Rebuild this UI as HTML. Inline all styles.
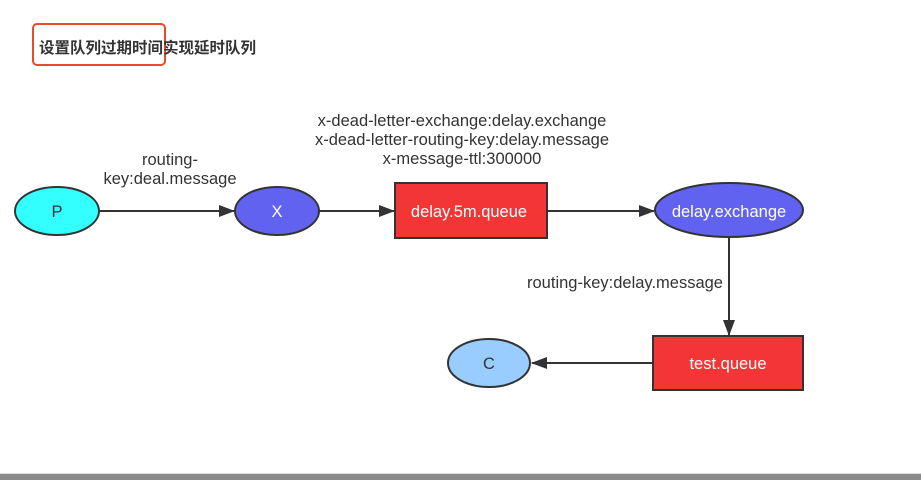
<!DOCTYPE html>
<html><head><meta charset="utf-8"><style>
html,body{margin:0;padding:0;background:#fff;}
svg{display:block;}
text{font-family:"Liberation Sans","Noto Sans CJK SC",sans-serif;}
</style></head><body>
<svg width="921" height="480" viewBox="0 0 921 480" xmlns="http://www.w3.org/2000/svg">
<defs>
<marker id="a" markerWidth="16" markerHeight="14" refX="15" refY="7" orient="auto" markerUnits="userSpaceOnUse">
<path d="M0,1 L16,7 L0,13 Z" fill="#333"/>
</marker>
</defs>
<rect width="921" height="480" fill="#fff"/>
<rect x="0" y="474" width="921" height="6" fill="#8a8a8a"/>
<rect x="0" y="473" width="921" height="1" fill="#ddd"/>
<rect x="33" y="24" width="132" height="41" rx="4" fill="none" stroke="#e84a2a" stroke-width="2"/>
<text x="39" y="53" font-size="15.5" font-weight="bold" fill="#333">设置队列过期时间实现延时队列</text>

<g stroke="#333" stroke-width="2" fill="none">
<line x1="100" y1="211" x2="234" y2="211" marker-end="url(#a)"/>
<line x1="319" y1="211" x2="394" y2="211" marker-end="url(#a)"/>
<line x1="547" y1="211" x2="654" y2="211" marker-end="url(#a)"/>
<line x1="729" y1="238" x2="729" y2="335" marker-end="url(#a)"/>
<line x1="652" y1="363" x2="532" y2="363" marker-end="url(#a)"/>
</g>

<ellipse cx="57" cy="211" rx="42" ry="24" fill="#33ffff" stroke="#333" stroke-width="2"/>
<text x="57" y="217" font-size="16.5" fill="#333" text-anchor="middle">P</text>
<ellipse cx="277" cy="211" rx="42" ry="24" fill="#6262f0" stroke="#333" stroke-width="2"/>
<text x="277" y="217" font-size="16.5" fill="#fff" text-anchor="middle">X</text>
<rect x="395" y="183" width="152" height="55" fill="#f23535" stroke="#333" stroke-width="2"/>
<text x="469" y="217" font-size="16.5" fill="#fff" text-anchor="middle">delay.5m.queue</text>
<ellipse cx="729" cy="210" rx="74" ry="27" fill="#6262f0" stroke="#333" stroke-width="2"/>
<text x="729" y="217" font-size="16.5" fill="#fff" text-anchor="middle">delay.exchange</text>
<rect x="653" y="336" width="150" height="54" fill="#f23535" stroke="#333" stroke-width="2"/>
<text x="728" y="369" font-size="16.5" fill="#fff" text-anchor="middle">test.queue</text>
<ellipse cx="489" cy="363" rx="41" ry="24" fill="#99ccff" stroke="#333" stroke-width="2"/>
<text x="489" y="369" font-size="16.5" fill="#333" text-anchor="middle">C</text>

<g font-size="16.5" fill="#333" text-anchor="middle">
<text x="170" y="165">routing-</text>
<text x="170" y="184">key:deal.message</text>
<text x="462" y="126">x-dead-letter-exchange:delay.exchange</text>
<text x="462" y="145">x-dead-letter-routing-key:delay.message</text>
<text x="462" y="164">x-message-ttl:300000</text>
<text x="625" y="288">routing-key:delay.message</text>
</g>
</svg>
</body></html>
